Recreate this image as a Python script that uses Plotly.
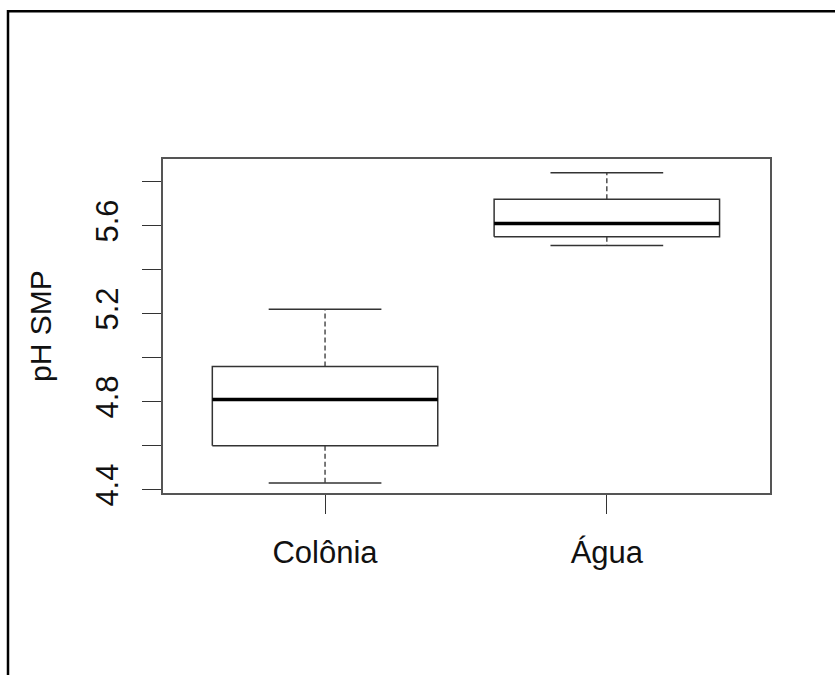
import plotly.graph_objects as go

# Summary statistics per group (pH SMP)
groups = ["Colônia", "Água"]
positions = [1, 2]
lower_whisker = [4.43, 5.51]
q1 = [4.60, 5.55]
median = [4.81, 5.61]
q3 = [4.96, 5.72]
upper_whisker = [5.22, 5.84]

y_ticks = [4.4, 4.6, 4.8, 5.0, 5.2, 5.4, 5.6, 5.8]
y_tick_labels = ["4.4", "", "4.8", "", "5.2", "", "5.6", ""]

BOX_HALF = 0.4
CAP_HALF = 0.2
LINE = "#333333"
FONT = "Liberation Sans, Arial, sans-serif"
TEXT = "#111111"

fig = go.Figure()

for i, p in enumerate(positions):
    # box outline
    fig.add_trace(go.Scatter(
        x=[p - BOX_HALF, p + BOX_HALF, p + BOX_HALF, p - BOX_HALF, p - BOX_HALF],
        y=[q1[i], q1[i], q3[i], q3[i], q1[i]],
        mode="lines", line=dict(color=LINE, width=1.5),
        hoverinfo="skip", showlegend=False))
    # median
    fig.add_trace(go.Scatter(
        x=[p - BOX_HALF, p + BOX_HALF], y=[median[i], median[i]],
        mode="lines", line=dict(color="#000000", width=3.5),
        hoverinfo="skip", showlegend=False))
    # dashed whiskers
    for a, b in ((q3[i], upper_whisker[i]), (q1[i], lower_whisker[i])):
        fig.add_trace(go.Scatter(
            x=[p, p], y=[a, b], mode="lines",
            line=dict(color=LINE, width=1.3, dash="5px,3px"),
            hoverinfo="skip", showlegend=False))
    # whisker caps
    for v in (upper_whisker[i], lower_whisker[i]):
        fig.add_trace(go.Scatter(
            x=[p - CAP_HALF, p + CAP_HALF], y=[v, v], mode="lines",
            line=dict(color=LINE, width=1.5),
            hoverinfo="skip", showlegend=False))

fig.update_layout(
    width=835, height=675,
    margin=dict(l=163, r=65, t=159, b=182),
    paper_bgcolor="white", plot_bgcolor="white",
    font=dict(family=FONT, size=31, color=TEXT),
    xaxis=dict(
        range=[0.425, 2.579], tickvals=positions, ticktext=groups,
        ticks="outside", ticklen=19, tickwidth=1.3, tickcolor=LINE,
        showline=True, mirror=True, linecolor="#555555", linewidth=1.5,
        showgrid=False, zeroline=False, ticklabelstandoff=12,
        tickfont=dict(size=31), fixedrange=True),
    yaxis=dict(
        range=[4.385, 5.903], tickvals=y_ticks, ticktext=y_tick_labels,
        tickangle=-90, ticks="outside", ticklen=19, tickwidth=1.3, tickcolor=LINE,
        showline=True, mirror=True, linecolor="#555555", linewidth=1.5,
        showgrid=False, zeroline=False, ticklabelstandoff=12,
        tickfont=dict(size=31), fixedrange=True),
    annotations=[dict(
        text="pH SMP", textangle=-90, xref="paper", yref="paper",
        x=(40 - 163) / 607, y=0.5, xanchor="center", yanchor="middle",
        showarrow=False, font=dict(family=FONT, size=30, color=TEXT))],
    shapes=[dict(
        type="rect", xref="paper", yref="paper",
        x0=(8 - 163) / 607, x1=(850 - 163) / 607,
        y0=(493.3 - 700) / 334.3, y1=(493.3 - 11) / 334.3,
        line=dict(color="#000000", width=2.5), fillcolor="rgba(0,0,0,0)")],
)

fig.write_html("out.html")
